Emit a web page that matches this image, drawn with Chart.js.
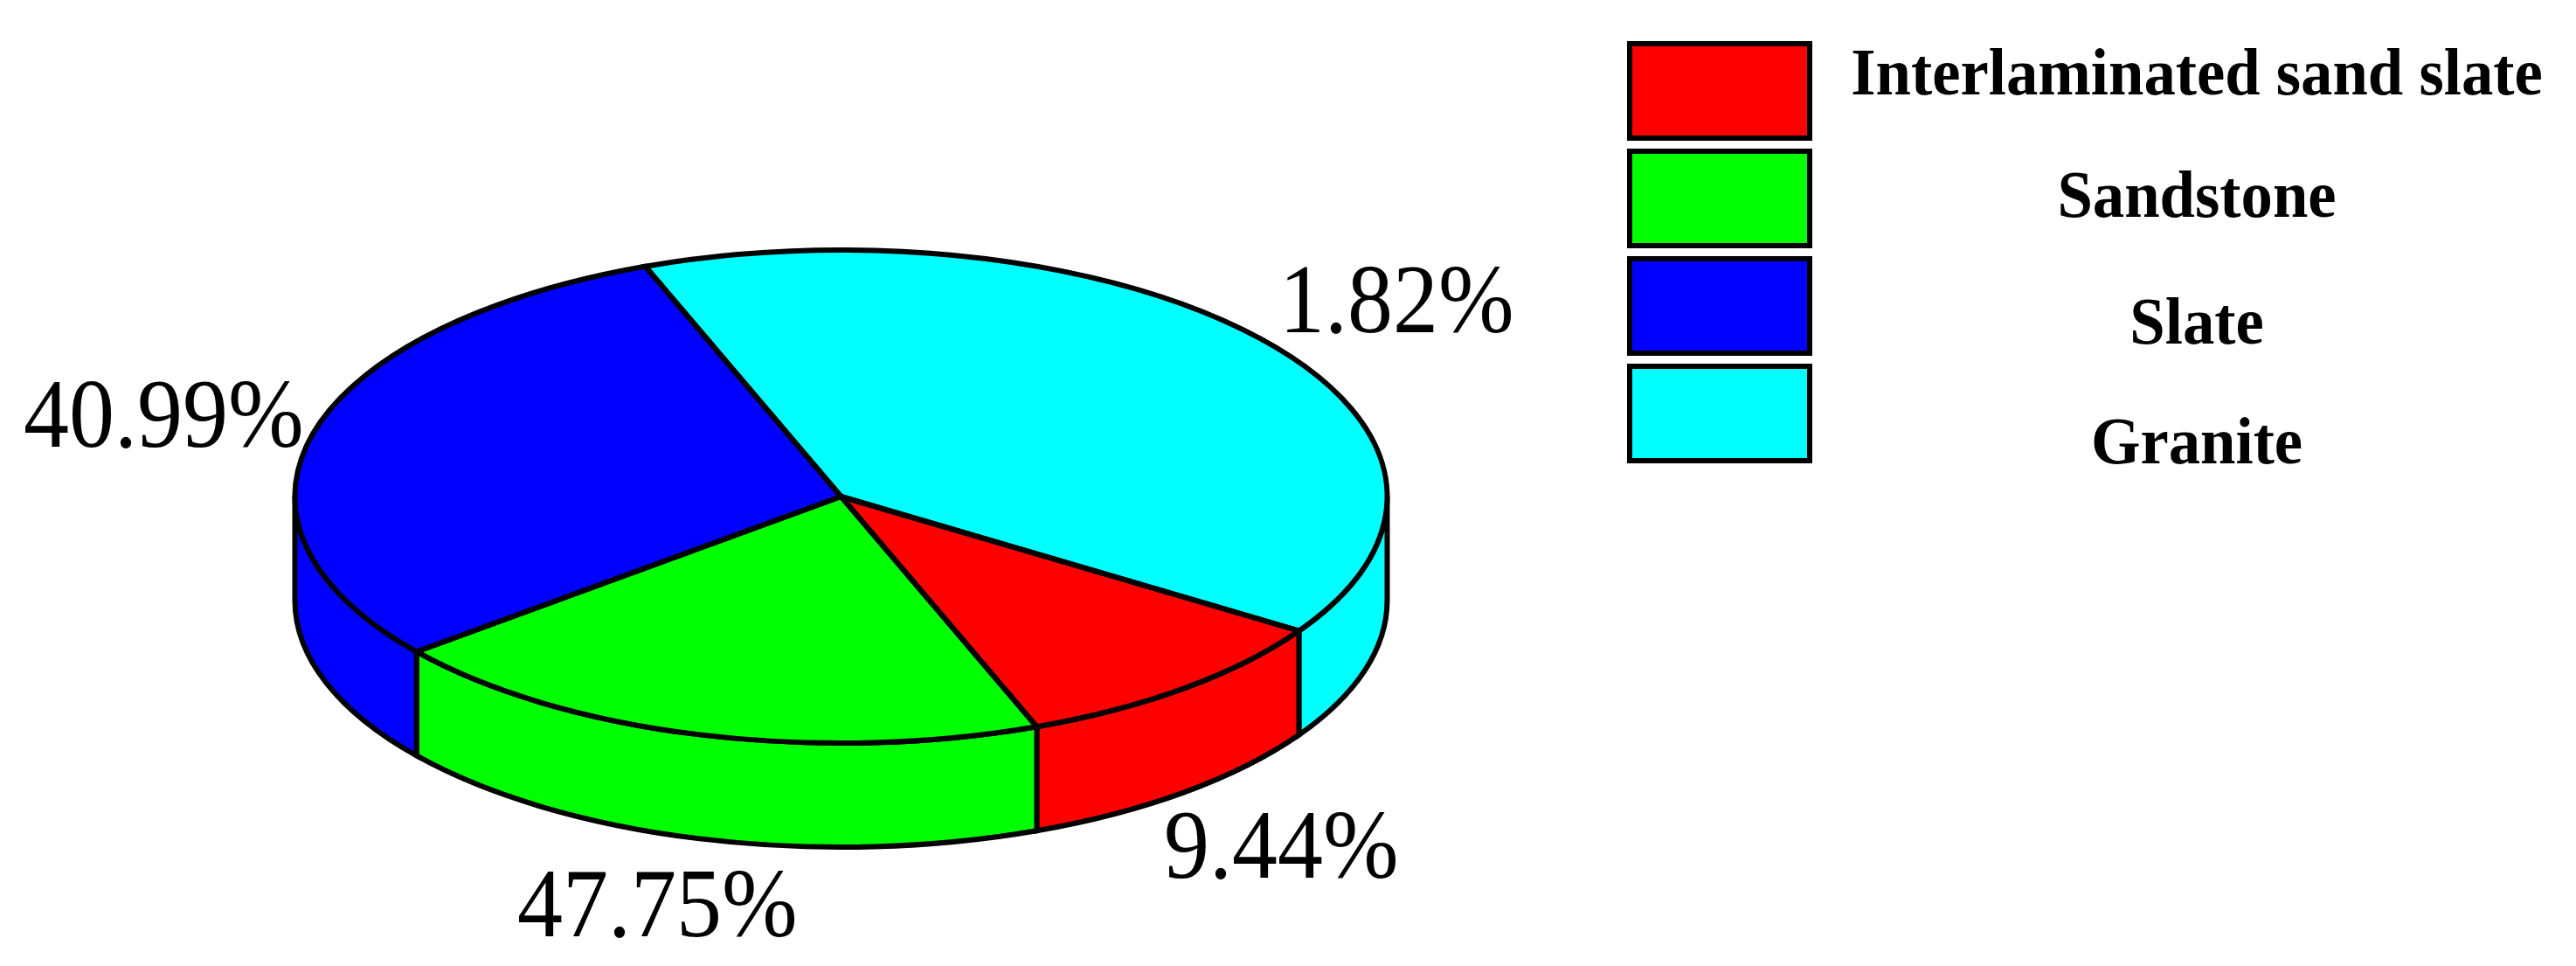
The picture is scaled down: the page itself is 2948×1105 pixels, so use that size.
<!DOCTYPE html>
<html>
<head>
<meta charset="utf-8">
<title>Lithology pie</title>
<style>
    html, body { margin: 0; padding: 0; background: #fff; }
    canvas { display: block; }
</style>
<script src="https://cdn.jsdelivr.net/npm/chart.js@4/dist/chart.umd.min.js"></script>
</head>
<body>
<canvas id="pieChart" width="2948" height="1105"></canvas>
<script>
const categories = ["Interlaminated sand slate", "Sandstone", "Slate", "Granite"];
// slice sizes as drawn in the picture (they differ from the printed labels)
const sliceShares = [10, 20, 30, 40];
const percentLabels = ["9.44%", "47.75%", "40.99%", "1.82%"];
const sliceColors = ["#ff0000", "#00ff00", "#0000ff", "#00ffff"];

// Squashes the flat pie into an ellipse and adds the side wall
const pie3d = {
    id: "pie3d",
    beforeDatasetsDraw(chart, args, opts) {
        const ctx = chart.ctx;
        const arcs = chart.getDatasetMeta(0).data;

        // side wall, only the front half of the ellipse shows
        arcs.forEach((arc) => {
            for (let k = -1; k <= 1; k++) {
                const lo = Math.max(arc.startAngle, k * 2 * Math.PI);
                const hi = Math.min(arc.endAngle, k * 2 * Math.PI + Math.PI);
                if (hi <= lo) continue;
                ctx.beginPath();
                ctx.ellipse(opts.cx, opts.cy, opts.rx, opts.ry, 0, lo, hi);
                ctx.ellipse(opts.cx, opts.cy + opts.depth, opts.rx, opts.ry, 0, hi, lo, true);
                ctx.closePath();
                ctx.fillStyle = arc.options.backgroundColor;
                ctx.fill();
                ctx.lineWidth = opts.lineWidth;
                ctx.strokeStyle = "#000";
                ctx.stroke();
            }
        });

        ctx.save();
        const first = arcs[0];
        ctx.translate(opts.cx, opts.cy);
        ctx.scale(opts.rx / first.outerRadius, opts.ry / first.outerRadius);
        ctx.translate(-first.x, -first.y);
    },
    afterDatasetsDraw(chart, args, opts) {
        const ctx = chart.ctx;
        ctx.restore();

        // outlines stroked after the restore so the line width stays even
        chart.getDatasetMeta(0).data.forEach((arc) => {
            ctx.beginPath();
            ctx.moveTo(opts.cx, opts.cy);
            ctx.ellipse(opts.cx, opts.cy, opts.rx, opts.ry, 0, arc.startAngle, arc.endAngle);
            ctx.closePath();
            ctx.lineWidth = opts.lineWidth;
            ctx.strokeStyle = "#000";
            ctx.stroke();
        });
    }
};

// The percent labels and the legend captions sit at their own spots
const chartTexts = {
    id: "chartTexts",
    afterDraw(chart, args, opts) {
        const ctx = chart.ctx;
        ctx.fillStyle = "#000";
        ctx.textBaseline = "alphabetic";

        percentLabels.forEach((text, i) => {
            const spot = opts.percentSpots[i];
            ctx.save();
            ctx.translate(spot[0], spot[1]);
            ctx.scale(1, opts.percentStretch);
            ctx.font = opts.percentFont;
            ctx.textAlign = "left";
            ctx.fillText(text, 0, 0);
            ctx.restore();
        });

        categories.forEach((text, i) => {
            ctx.save();
            ctx.translate(opts.captionX, opts.captionBaselines[i]);
            ctx.scale(1, opts.captionStretch);
            ctx.font = opts.captionFont;
            ctx.textAlign = "center";
            ctx.fillText(text, 0, 0);
            ctx.restore();
        });
    }
};

const chart = new Chart(document.getElementById("pieChart").getContext("2d"), {
    type: "pie",
    data: {
        labels: categories,
        datasets: [{
            data: sliceShares,
            backgroundColor: sliceColors,
            borderWidth: 0,
            clip: false
        }]
    },
    plugins: [pie3d, chartTexts],
    options: {
        responsive: false,
        animation: false,
        rotation: 123,
        layout: { padding: { top: 35, right: 862 } },
        plugins: {
            tooltip: { enabled: false },
            legend: {
                position: "right",
                align: "start",
                labels: {
                    boxWidth: 206,
                    boxHeight: 108,
                    padding: 15,
                    font: { size: 10 },
                    generateLabels: () => categories.map((name, i) => ({
                        text: "",
                        fillStyle: sliceColors[i],
                        strokeStyle: "#000",
                        lineWidth: 6,
                        hidden: false,
                        index: i
                    }))
                }
            },
            pie3d: { cx: 962.5, cy: 568, rx: 625, ry: 282, depth: 119, lineWidth: 6 },
            chartTexts: {
                percentFont: "104px 'Liberation Serif'",
                percentStretch: 1.08,
                percentSpots: [[1332, 1004], [592, 1071], [27, 511], [1464, 380]],
                captionFont: "bold 72.7px 'Liberation Serif'",
                captionStretch: 1.06,
                captionX: 2514,
                captionBaselines: [108, 248, 393, 530]
            }
        }
    }
});
</script>
</body>
</html>
